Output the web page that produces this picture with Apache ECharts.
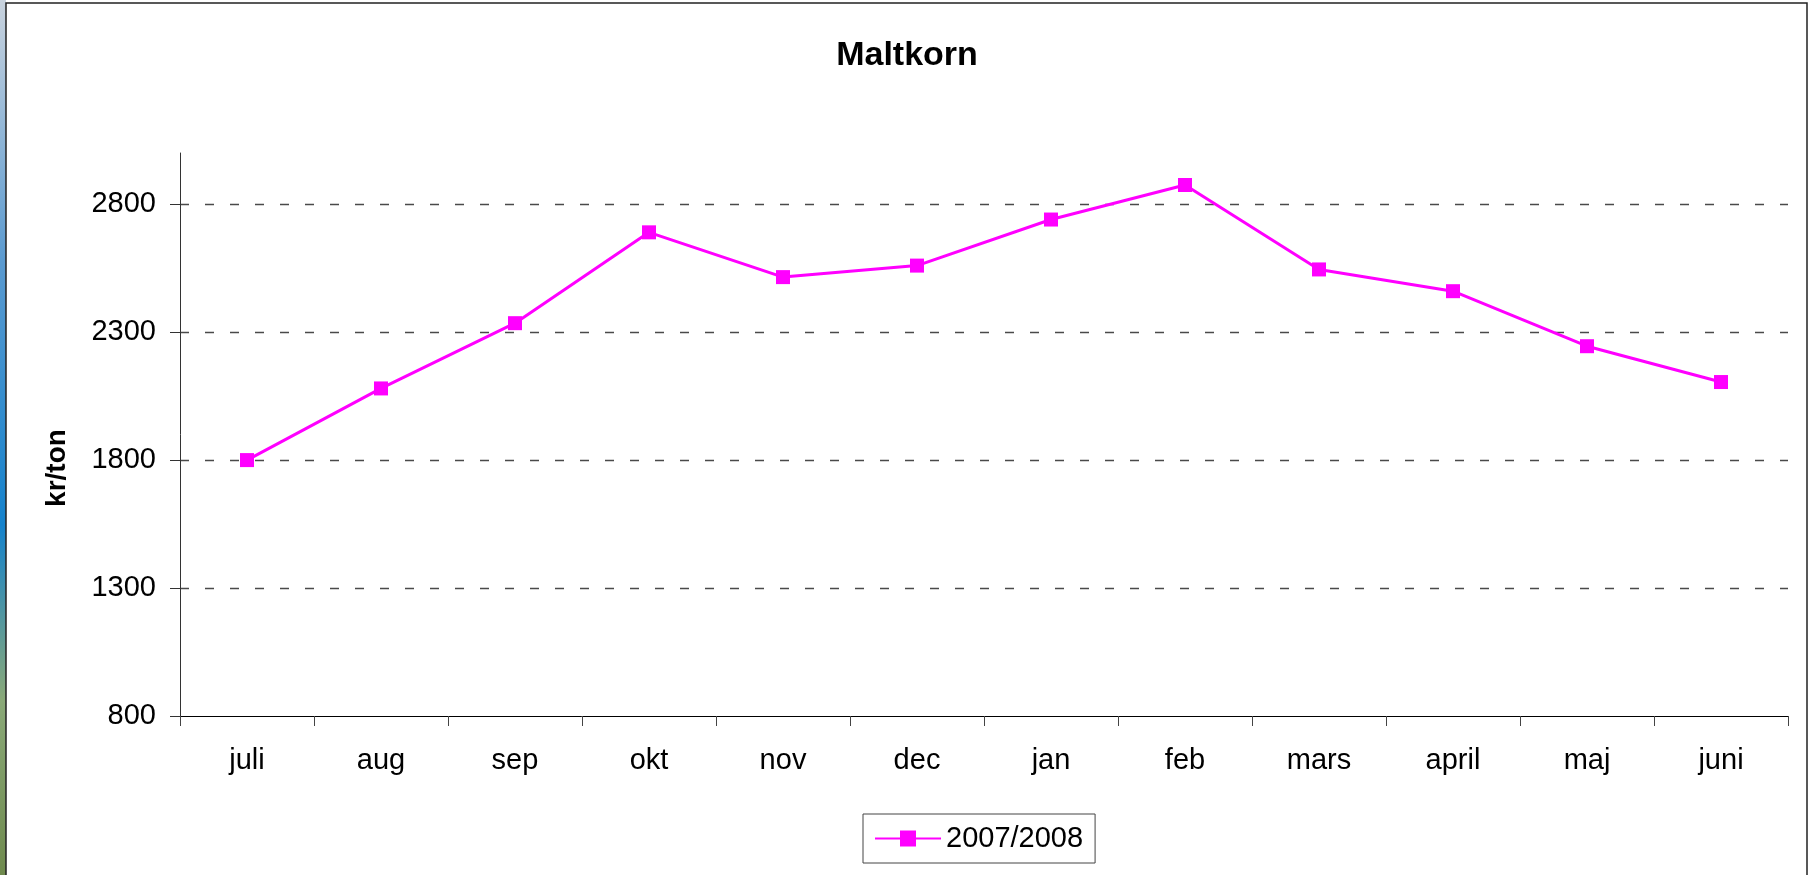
<!DOCTYPE html>
<html>
<head>
<meta charset="utf-8">
<script src="https://cdn.jsdelivr.net/npm/echarts@6/dist/echarts.min.js"></script>
<style>
  html, body { margin: 0; padding: 0; background: #ffffff; }
  #maltkorn { width: 1814px; height: 875px; }
</style>
</head>
<body>
<div id="maltkorn"></div>
<script>
var chartDom = document.getElementById('maltkorn');
var myChart = echarts.init(chartDom);
var option;

// months of the season
var months = ['juli', 'aug', 'sep', 'okt', 'nov', 'dec', 'jan', 'feb', 'mars', 'april', 'maj', 'juni'];
// kr/ton
var prices = [1800, 2080, 2335, 2690, 2515, 2560, 2740, 2875, 2545, 2460, 2245, 2105];
var seriesName = '2007/2008';
var yTicks = [800, 1300, 1800, 2300, 2800];

var fontFam = 'Liberation Sans, Arial, sans-serif';

option = {
  backgroundColor: '#ffffff',
  animation: false,
  title: {
    text: 'Maltkorn',
    left: 'center',
    top: 34,
    textStyle: {
      fontFamily: fontFam,
      fontWeight: 'bold',
      fontSize: 34,
      color: '#000'
    }
  },
  legend: {
    data: [seriesName],
    left: 863,
    top: 814,
    padding: [10, 12, 10, 11],
    borderColor: '#444',
    borderWidth: 1,
    itemWidth: 66,
    itemHeight: 20,
    textStyle: {
      fontFamily: fontFam,
      fontSize: 29,
      color: '#000'
    }
  },
  grid: {
    left: 180,
    right: 26,
    top: 153,
    bottom: 159,
    containLabel: false
  },
  xAxis: {
    type: 'category',
    data: months,
    boundaryGap: true,
    axisLine: { lineStyle: { color: '#000', width: 1 } },
    axisTick: { show: true, length: 10, lineStyle: { color: '#444' } },
    axisLabel: {
      margin: 30,
      fontFamily: fontFam,
      fontSize: 29,
      color: '#000'
    }
  },
  yAxis: {
    type: 'value',
    min: 800,
    max: 3000,
    interval: 500,
    axisLine: { show: true, lineStyle: { color: '#333', width: 1 } },
    axisTick: { show: true, length: 10, customValues: yTicks, lineStyle: { color: '#333' } },
    axisLabel: {
      customValues: yTicks,
      formatter: function (v) { return String(v); },
      margin: 24,
      fontFamily: fontFam,
      fontSize: 29,
      color: '#000'
    },
    splitLine: {
      show: true,
      showMinLine: false,
      lineStyle: { color: '#4a4a4a', width: 1.3, type: [9, 16], dashOffset: 0 }
    }
  },
  graphic: [
    {
      type: 'rect',
      shape: { x: 0, y: 0, width: 6, height: 875 },
      style: {
        fill: new echarts.graphic.LinearGradient(0, 0, 0, 1, [
          { offset: 0, color: '#c9d3de' },
          { offset: 0.3, color: '#5a9ad0' },
          { offset: 0.6, color: '#1482cc' },
          { offset: 0.8, color: '#8aa978' },
          { offset: 1, color: '#6f8a4e' }
        ])
      },
      silent: true
    },
    {
      type: 'rect',
      shape: { x: 6, y: 3, width: 1801, height: 880 },
      style: { fill: 'none', stroke: '#222', lineWidth: 1.5 },
      silent: true
    },
    {
      type: 'text',
      x: 57,
      y: 468,
      rotation: Math.PI / 2,
      style: {
        text: 'kr/ton',
        fontFamily: fontFam,
        fontWeight: 'bold',
        fontSize: 28,
        fill: '#000',
        align: 'center',
        verticalAlign: 'middle'
      },
      silent: true
    }
  ],
  series: [
    {
      name: seriesName,
      type: 'line',
      data: prices,
      symbol: 'rect',
      symbolSize: 14,
      lineStyle: { color: '#ff00ff', width: 3 },
      itemStyle: { color: '#ff00ff' }
    }
  ]
};

option && myChart.setOption(option);
</script>
</body>
</html>
